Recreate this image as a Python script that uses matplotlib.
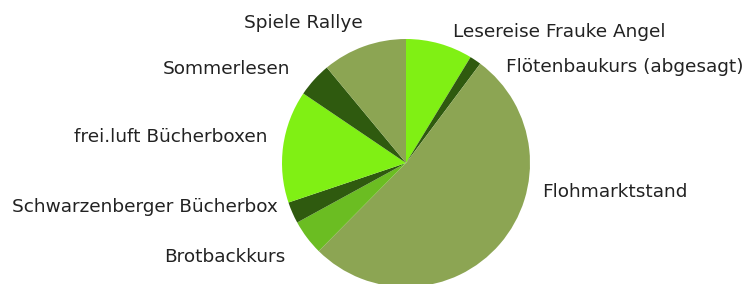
import matplotlib.pyplot as plt

# Daten (Anteile im Uhrzeigersinn ab 12 Uhr)
labels = ['Lesereise Frauke Angel', 'Flötenbaukurs (abgesagt)', 'Flohmarktstand',
          'Brotbackkurs', 'Schwarzenberger Bücherbox', 'frei.luft Bücherboxen',
          'Sommerlesen', 'Spiele Rallye']
values = [8.7, 1.5, 52.1, 4.6, 2.8, 14.6, 4.5, 11.0]

# Farben
hell = '#80f014'
dunkel = '#2f5a0f'
oliv = '#8ca553'
mittel = '#6bbd22'
colors = [hell, dunkel, oliv, mittel, dunkel, hell, dunkel, oliv]

# Lage der Beschriftungen in Pixeln (x, Grundlinie, Ausrichtung)
label_pos = [(453, 37, 'left'), (506, 72, 'left'), (542, 197, 'left'),
             (285, 262, 'right'), (278, 212, 'right'), (267, 142, 'right'),
             (290, 74, 'right'), (363, 28, 'right')]

W, H = 746, 284
cx, cy, r = 406, 163, 124

fig = plt.figure(figsize=(W / 100, H / 100), dpi=100)
ax = fig.add_axes([0, 0, 1, 1])

ax.pie(values, colors=colors, startangle=90, counterclock=False,
       wedgeprops=dict(linewidth=0))

ax.set_xlim(-cx / r, (W - cx) / r)
ax.set_ylim(-(H - cy) / r, cy / r)
ax.set_aspect('equal', adjustable='datalim')
ax.axis('off')

for text, (px, py, ha) in zip(labels, label_pos):
    ax.text((px - cx) / r, (cy - py) / r, text, ha=ha, va='baseline',
            fontsize=13.3, color='#222222')

fig.savefig('out.png', dpi=100)
